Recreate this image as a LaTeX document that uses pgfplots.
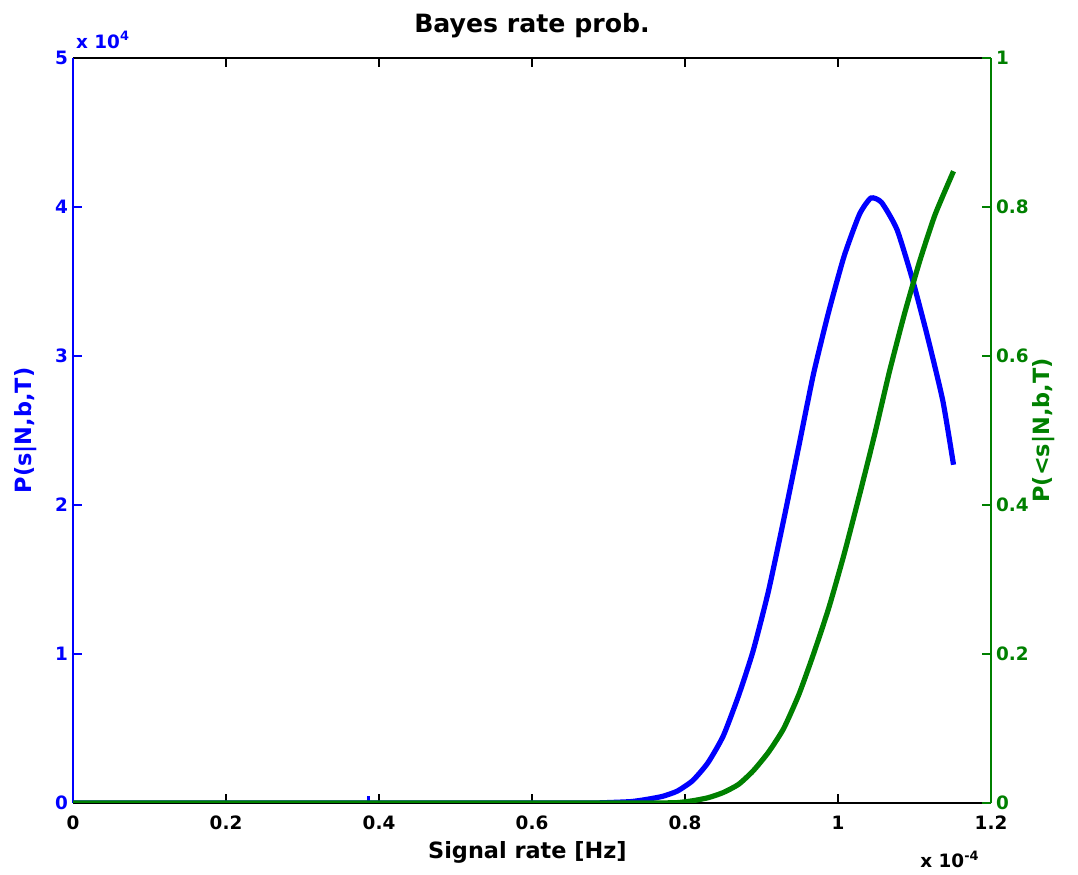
\documentclass[border=0pt]{standalone}
\usepackage{pgfplots}
\pgfplotsset{compat=1.18}
\usepackage{fontspec}
\setmainfont{DejaVu Sans}
\definecolor{mblue}{RGB}{0,0,255}
\definecolor{mgreen}{RGB}{0,128,0}

\begin{document}
\begin{tikzpicture}
  % left axis: density
  \begin{axis}[
      name=ax1,
      scale only axis,
      clip mode=individual,
      width=459pt, height=372.5pt,
      xmin=0, xmax=1.2,
      ymin=0, ymax=5,
      axis x line*=box,
      axis y line*=left,
      x axis line style={black, line width=1.4pt},
      y axis line style={mblue, line width=1.4pt},
      xtick={0,0.2,0.4,0.6,0.8,1,1.2},
      xticklabels={0,0.2,0.4,0.6,0.8,1,1.2},
      ytick={0,1,2,3,4,5},
      yticklabels={0,1,2,3,4,5},
      tick align=inside,
      major tick length=4.5pt,
      x tick style={black, line width=1.2pt},
      y tick style={mblue, line width=1.2pt},
      tick label style={font=\fontsize{9.2}{11}\selectfont\bfseries},
      yticklabel style={mblue, xshift=1pt},
      xticklabel style={yshift=-3pt},
      /pgf/number format/assume math mode=true,
    ]
    \addplot[color=mblue, line width=2.6pt, smooth, tension=0.35] coordinates {
      (0,0) (0.2,0) (0.4,0) (0.6,0) (0.65,0) (0.682,0) (0.711,0.005)
      (0.731,0.010) (0.751,0.025)
      (0.771,0.045) (0.790,0.080) (0.810,0.150) (0.830,0.270)
      (0.850,0.450) (0.870,0.720) (0.889,1.020) (0.909,1.420)
      (0.929,1.900) (0.949,2.400) (0.968,2.880) (0.988,3.300)
      (1.008,3.670) (1.028,3.950) (1.043,4.060) (1.057,4.030)
      (1.077,3.850) (1.097,3.520) (1.117,3.130) (1.137,2.700)
      (1.151,2.270)
    };
    % small blip near 0.4
    \addplot[color=mblue, line width=1.6pt] coordinates {
      (0.386,0.045) (0.386,0) (0.401,0)
    };
    \node[font=\fontsize{9.2}{11}\selectfont\bfseries, text=mblue, anchor=base west, inner sep=0pt]
      at (axis description cs:0.003,1.013) {x 10\textsuperscript{4}};
    \node[font=\fontsize{9.2}{11}\selectfont\bfseries, anchor=base east, inner sep=0pt]
      at (axis description cs:0.988,-0.087) {x 10\textsuperscript{-4}};
    \node[font=\fontsize{12.6}{15}\selectfont\bfseries]
      at (axis description cs:0.5,1.044) {Bayes rate prob.};
    \node[font=\fontsize{11.2}{13}\selectfont\bfseries]
      at (axis description cs:0.495,-0.066) {Signal rate [Hz]};
    \node[font=\fontsize{11.2}{13}\selectfont\bfseries, text=mblue, rotate=90]
      at (axis description cs:-0.052,0.5) {P(s|N,b,T)};
  \end{axis}

  % right axis: cumulative
  \begin{axis}[
      scale only axis,
      clip mode=individual,
      width=459pt, height=372.5pt,
      xmin=0, xmax=1.2,
      ymin=0, ymax=1,
      axis x line=none,
      axis y line*=right,
      y axis line style={mgreen, line width=1.4pt},
      ytick={0,0.2,0.4,0.6,0.8,1},
      yticklabels={0,0.2,0.4,0.6,0.8,1},
      tick align=inside,
      major tick length=4.5pt,
      y tick style={mgreen, line width=1.2pt},
      tick label style={font=\fontsize{9.2}{11}\selectfont\bfseries},
      yticklabel style={mgreen, xshift=-1pt},
      /pgf/number format/assume math mode=true,
    ]
    \addplot[color=mgreen, line width=2.6pt, smooth, tension=0.35] coordinates {
      (0,0) (0.2,0) (0.4,0) (0.6,0) (0.7,0) (0.76,0) (0.790,0.0005)
      (0.810,0.003) (0.830,0.007) (0.850,0.014)
      (0.870,0.025) (0.889,0.043) (0.909,0.068) (0.929,0.100)
      (0.949,0.146) (0.968,0.200) (0.988,0.262) (1.008,0.334)
      (1.028,0.413) (1.048,0.495) (1.067,0.578) (1.087,0.657)
      (1.107,0.728) (1.127,0.790) (1.151,0.848)
    };
    \node[font=\fontsize{11.2}{13}\selectfont\bfseries, text=mgreen, rotate=90]
      at (axis description cs:1.057,0.5) {P(<s|N,b,T)};
  \end{axis}

  \pgfresetboundingbox
  \path[use as bounding box] ([shift={(-36.5pt,-36pt)}]ax1.south west)
    rectangle ([shift={(43.5pt,29pt)}]ax1.north east);
\end{tikzpicture}
\end{document}
